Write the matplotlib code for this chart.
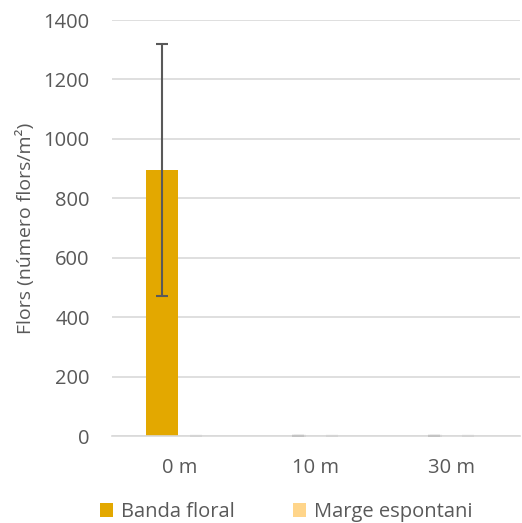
import matplotlib
matplotlib.use('Agg')
import matplotlib.pyplot as plt
import numpy as np

# data
categories = ['0 m', '10 m', '30 m']
series_names = ['Banda floral', 'Marge espontani']
banda = [895, 0, 0]
banda_err = [425, 0, 0]
marge = [0, 0, 0]
marge_err = [0, 0, 0]

colors = ['#E3A800', '#FFD58A']

plt.rcParams['font.family'] = ['Open Sans', 'DejaVu Sans']

fig = plt.figure(figsize=(5.22, 5.23), dpi=100)
ax = fig.add_axes([112/522, 87/523, 408/522, 416/523])

x = np.arange(len(categories))
w = 0.235
ekw = dict(ecolor='#595959', elinewidth=1.5, capsize=4, capthick=1.5)
ax.bar(x - w/2 - 0.012, banda, w, yerr=banda_err, color=colors[0], label=series_names[0],
       error_kw=ekw, zorder=2)
ax.bar(x + w/2, marge, w, yerr=marge_err, color=colors[1], label=series_names[1],
       error_kw=dict(ekw, ecolor='#bfbfbf'), zorder=2)
# small caps on zero bars
ax.errorbar(x[1:] - w/2, banda[1:], yerr=banda_err[1:], fmt='none',
            ecolor='#bfbfbf', capsize=4, capthick=1.5)

ax.set_xlim(-0.5, 2.5)
ax.set_ylim(0, 1400)
ax.set_yticks(range(0, 1401, 200))
ax.set_xticks(x)
ax.set_xticklabels(categories)
ax.yaxis.grid(True, color='#d9d9d9', linewidth=1.2, zorder=0)
ax.set_axisbelow(True)
for s in ['top', 'right', 'left']:
    ax.spines[s].set_visible(False)
ax.spines['bottom'].set_color('#d9d9d9')
ax.spines['bottom'].set_linewidth(1.2)
ax.tick_params(axis='both', length=0, labelsize=14.5, colors='#595959')
ax.tick_params(axis='y', pad=16)
ax.tick_params(axis='x', pad=16)
ax.set_ylabel('Flors (número flors/m²)', fontsize=14, color='#595959', labelpad=6)

ax.legend(loc='upper left', bbox_to_anchor=(-0.075, -0.115), ncol=2, frameon=False,
          fontsize=14.5, labelcolor='#595959', handlelength=0.65, handleheight=0.65,
          columnspacing=2.9, handletextpad=0.4)

plt.savefig('out.png', dpi=100)
